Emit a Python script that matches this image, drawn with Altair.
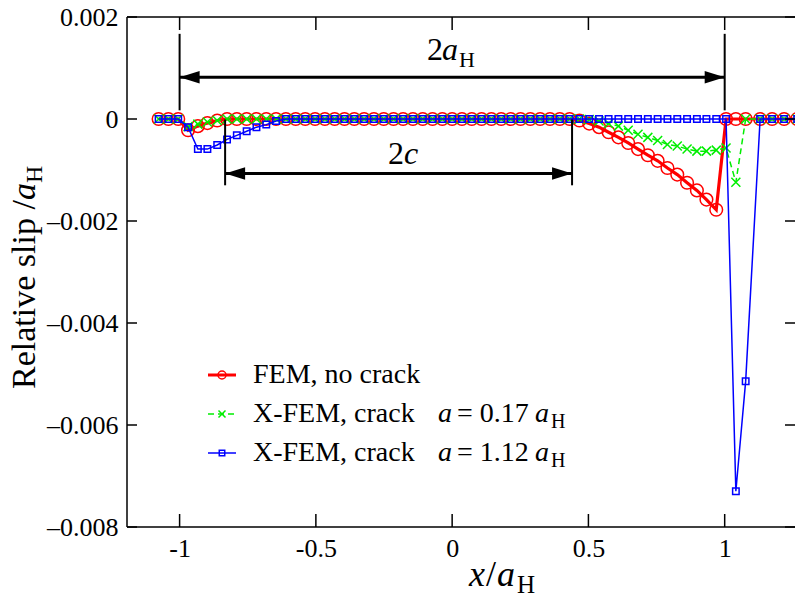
import altair as alt
import pandas as pd

SERIF = "Liberation Serif, Tinos, 'Times New Roman', 'DejaVu Serif', serif"
W, H = 668, 510
OX, OY = 127, 17  # plot origin on page

# ---------------- data ----------------
x_pos = [-1.077, -1.041, -1.005, -0.969, -0.933, -0.898, -0.862, -0.826, -0.790, -0.754,
         -0.718, -0.682, -0.646, -0.610, -0.574, -0.539, -0.503, -0.467, -0.431, -0.395,
         -0.359, -0.323, -0.287, -0.251, -0.215, -0.180, -0.144, -0.108, -0.072, -0.036,
         0.000, 0.036, 0.072, 0.108, 0.144, 0.180, 0.215, 0.251, 0.287, 0.323,
         0.359, 0.395, 0.431, 0.467, 0.503, 0.539, 0.574, 0.610, 0.646, 0.682,
         0.718, 0.754, 0.790, 0.826, 0.862, 0.898, 0.933, 0.969, 1.005, 1.041,
         1.077, 1.130, 1.174, 1.218, 1.266]

slip_fem = [0, 0, 0, -0.00022, -0.00014, -0.00008, -0.00003, 0, 0, 0,
            0, 0, 0, 0, 0, 0, 0, 0, 0, 0,
            0, 0, 0, 0, 0, 0, 0, 0, 0, 0,
            0, 0, 0, 0, 0, 0, 0, 0, 0, 0,
            0, 0, 0, -0.00003, -0.00009, -0.00016, -0.00026, -0.00036, -0.00047, -0.00059,
            -0.00071, -0.00082, -0.00096, -0.00109, -0.00125, -0.00140, -0.00158, -0.00178, 0, 0,
            0, 0, 0, 0, 0]

slip_a017 = [0, 0, 0, -0.00015, -0.00010, -0.00006, -0.00003, 0, 0, 0,
             0, 0, 0, 0, 0, 0, 0, 0, 0, 0,
             0, 0, 0, 0, 0, 0, 0, 0, 0, 0,
             0, 0, 0, 0, 0, 0, 0, 0, 0, 0,
             0, 0, 0, 0, -0.00001, -0.00004, -0.00009, -0.00014, -0.00022, -0.00030,
             -0.00036, -0.00042, -0.00050, -0.00053, -0.00059, -0.00063, -0.00063, -0.00061, -0.00057, -0.00124,
             0, 0, 0, 0, 0]

slip_a112 = [0, 0, 0, -0.00016, -0.00059, -0.00059, -0.00051, -0.00040, -0.00032, -0.00024,
             -0.00016, -0.00011, -0.00004, 0, 0, 0, 0, 0, 0, 0,
             0, 0, 0, 0, 0, 0, 0, 0, 0, 0,
             0, 0, 0, 0, 0, 0, 0, 0, 0, 0,
             0, 0, 0, 0, 0, 0, 0, 0, 0, 0,
             0, 0, 0, 0, 0, 0, 0, 0, 0, -0.00730,
             -0.00514, 0, 0, 0, 0]

x_ticks = [-1, -0.5, 0, 0.5, 1]
y_ticks = [0.002, 0, -0.002, -0.004, -0.006, -0.008]

# annotation geometry (data units)
span_aH = [-1.0, 1.0]
span_c = [-0.833, 0.440]
arrow_y_aH = 0.00082
arrow_y_c = -0.00107

# ---------------- scales / axes ----------------
xs = alt.Scale(domain=[-1.193, 1.258], nice=False, zero=False)
ys = alt.Scale(domain=[-0.008, 0.002], nice=False, zero=False)

x_axis = alt.Axis(values=x_ticks, ticks=False, domain=False, grid=False, title=None,
                  labelExpr="toString(datum.value)", labelPadding=8,
                  labelFont=SERIF, labelFontSize=26, labelColor="black")
y_axis = alt.Axis(values=y_ticks, ticks=False, domain=False, grid=False, title=None,
                  labelExpr="datum.value == 0 ? '0' : replace(replace(format(datum.value, '.3f'), '\u2212', '\u2013'), '-', '\u2013')",
                  labelPadding=9, labelFont=SERIF, labelFontSize=26, labelColor="black")


def X(field):
    return alt.X(field, scale=xs, axis=x_axis)


def Y(field):
    return alt.Y(field, scale=ys, axis=y_axis)


df_fem = pd.DataFrame({"x": x_pos, "y": slip_fem})
df_a017 = pd.DataFrame({"x": x_pos, "y": slip_a017})
df_a112 = pd.DataFrame({"x": x_pos, "y": slip_a112})

RED, GREEN, BLUE = "#ff0000", "#00ee00", "#0000ff"


def xy(chart):
    return chart.encode(x=X("x:Q"), y=Y("y:Q"))


red_line = xy(alt.Chart(df_fem).mark_line(color=RED, strokeWidth=3.2, clip=True))
red_pts = xy(alt.Chart(df_fem).mark_point(shape="circle", size=160, filled=False,
                                          color=RED, strokeWidth=1.5, opacity=1, clip=True))
green_line = xy(alt.Chart(df_a017).mark_line(color=GREEN, strokeWidth=1.5,
                                             strokeDash=[6, 4], clip=True))
green_pts = xy(alt.Chart(df_a017).mark_point(shape="M-1,-1L1,1M-1,1L1,-1", size=81,
                                             filled=False, color=GREEN, strokeWidth=1.5,
                                             opacity=1, clip=True))
blue_line = xy(alt.Chart(df_a112).mark_line(color=BLUE, strokeWidth=1.5, clip=True))
blue_pts = xy(alt.Chart(df_a112).mark_point(shape="square", size=42, filled=False,
                                            color=BLUE, strokeWidth=1.5, opacity=1, clip=True))

# ---------------- frame (left, top, bottom; right edge lies off the page) ----------------
one = pd.DataFrame({"k": [0]})
frame = [
    alt.Chart(one).mark_rule(color="black", strokeWidth=1.5).encode(
        x=alt.value(0), y=alt.value(0), y2=alt.value(H)),
    alt.Chart(one).mark_rule(color="black", strokeWidth=1.5).encode(
        x=alt.value(0), x2=alt.value(W), y=alt.value(0)),
    alt.Chart(one).mark_rule(color="black", strokeWidth=1.5).encode(
        x=alt.value(0), x2=alt.value(W), y=alt.value(H)),
]

# ---------------- tick marks (inside, all four sides) ----------------
dxt = pd.DataFrame({"v": x_ticks})
dyt = pd.DataFrame({"v": y_ticks})
tick_bottom = alt.Chart(dxt).mark_rule(color="black", strokeWidth=1.5).encode(
    x=X("v:Q"), y=alt.value(H), y2=alt.value(H - 13))
tick_top = alt.Chart(dxt).mark_rule(color="black", strokeWidth=1.5).encode(
    x=X("v:Q"), y=alt.value(0), y2=alt.value(13))
tick_left = alt.Chart(dyt).mark_rule(color="black", strokeWidth=1.5).encode(
    y=Y("v:Q"), x=alt.value(0), x2=alt.value(10))
tick_right = alt.Chart(dyt).mark_rule(color="black", strokeWidth=1.5).encode(
    y=Y("v:Q"), x=alt.value(W), x2=alt.value(W - 10))

# ---------------- annotation arrows ----------------
bars = pd.DataFrame({
    "x": [span_aH[0], span_aH[1], span_c[0], span_c[1]],
    "y1": [0.00167, 0.00167, -0.00001, -0.00001],
    "y2": [0.00017, 0.00017, -0.00130, -0.00130],
})
bar_rules = alt.Chart(bars).mark_rule(color="black", strokeWidth=2).encode(
    x=X("x:Q"), y=Y("y1:Q"), y2="y2:Q")

arrows = pd.DataFrame({
    "x1": [span_aH[0], span_c[0]], "x2": [span_aH[1], span_c[1]],
    "y": [arrow_y_aH, arrow_y_c],
})
arrow_rules = alt.Chart(arrows).mark_rule(color="black", strokeWidth=3).encode(
    x=X("x1:Q"), x2="x2:Q", y=Y("y:Q"))

heads_l = pd.DataFrame({"x": [span_aH[0], span_c[0]], "y": [arrow_y_aH, arrow_y_c]})
heads_r = pd.DataFrame({"x": [span_aH[1], span_c[1]], "y": [arrow_y_aH, arrow_y_c]})
head_left = xy(alt.Chart(heads_l).mark_point(shape="M0,0L2,-0.62L2,0.62Z", size=400,
                                             filled=True, color="black", opacity=1))
head_right = xy(alt.Chart(heads_r).mark_point(shape="M0,0L-2,-0.62L-2,0.62Z", size=400,
                                              filled=True, color="black", opacity=1))


def txt(s, px, py, size, italic=False, angle=0):
    return alt.Chart(one).mark_text(
        text=s, align="left", baseline="alphabetic", font=SERIF, fontSize=size,
        fontStyle="italic" if italic else "normal", angle=angle, color="black",
    ).encode(x=alt.value(px - OX), y=alt.value(py - OY))


texts = [
    # 2a_H and 2c labels
    txt("2", 427, 60, 32), txt("a", 442, 60, 32, italic=True), txt("H", 459, 67, 22),
    txt("2", 388, 164, 32), txt("c", 404, 164, 32, italic=True),
    # y title (rotated)
    txt("Relative slip /", 35, 389, 34, angle=270),
    txt("a", 35, 200, 34, italic=True, angle=270),
    txt("H", 42, 183, 24, angle=270),
    # x title
    txt("x", 469, 586, 36, italic=True), txt("/", 486, 586, 36),
    txt("a", 497, 586, 36, italic=True), txt("H", 517, 593, 25),
    # legend text
    txt("FEM, no crack", 253, 383, 28),
    txt("X-FEM, crack", 253, 422, 28), txt("a", 438, 422, 28, italic=True),
    txt("= 0.17", 457, 422, 28), txt("a", 535, 422, 28, italic=True), txt("H", 551, 428, 20),
    txt("X-FEM, crack", 253, 461, 28), txt("a", 438, 461, 28, italic=True),
    txt("= 1.12", 457, 461, 28), txt("a", 535, 461, 28, italic=True), txt("H", 551, 467, 20),
]

# legend samples
LX1, LX2, LXM = 208 - OX, 236 - OX, 222 - OX
ROWS = [375 - OY, 414 - OY, 453 - OY]
leg = [
    alt.Chart(one).mark_rule(color=RED, strokeWidth=3).encode(
        x=alt.value(LX1), x2=alt.value(LX2), y=alt.value(ROWS[0])),
    alt.Chart(one).mark_point(shape="circle", size=64, filled=False, color=RED,
                              strokeWidth=1.5, opacity=1).encode(
        x=alt.value(LXM), y=alt.value(ROWS[0])),
    alt.Chart(one).mark_rule(color=GREEN, strokeWidth=1.5, strokeDash=[6, 4]).encode(
        x=alt.value(LX1), x2=alt.value(LX2), y=alt.value(ROWS[1])),
    alt.Chart(one).mark_point(shape="M-1,-1L1,1M-1,1L1,-1", size=49, filled=False,
                              color=GREEN, strokeWidth=1.5, opacity=1).encode(
        x=alt.value(LXM), y=alt.value(ROWS[1])),
    alt.Chart(one).mark_rule(color=BLUE, strokeWidth=1.5).encode(
        x=alt.value(LX1), x2=alt.value(LX2), y=alt.value(ROWS[2])),
    alt.Chart(one).mark_point(shape="square", size=30, filled=False, color=BLUE,
                              strokeWidth=1.5, opacity=1).encode(
        x=alt.value(LXM), y=alt.value(ROWS[2])),
]

chart = alt.layer(
    red_line, red_pts, green_line, green_pts, blue_line, blue_pts,
    *frame, tick_bottom, tick_top, tick_left, tick_right,
    bar_rules, arrow_rules, head_left, head_right,
    *texts, *leg,
).properties(
    width=W, height=H, autosize="none",
    padding={"left": OX - 8, "top": OY - 8, "right": 0, "bottom": 70},
    background="white",
).configure_view(strokeWidth=0).configure_axis(
    labelFont=SERIF, labelFontSize=26, labelColor="black"
).configure_text(font=SERIF)

chart.save("out.html", embed_options={"renderer": "svg", "actions": False})
